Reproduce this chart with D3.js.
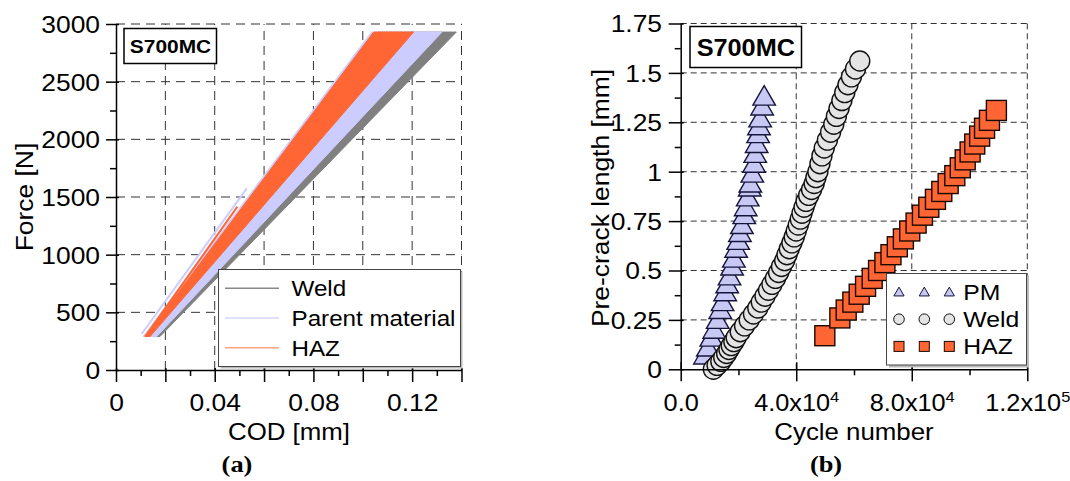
<!DOCTYPE html>
<html>
<head>
<meta charset="utf-8">
<script src="https://cdn.jsdelivr.net/npm/d3@7"></script>
<style>
  body { margin: 0; background: #fff; }
  svg { display: block; font-family: "Liberation Sans", Arial, sans-serif; }
</style>
</head>
<body>
<div id="wrapper"></div>
<script>
// ---- (a) force vs COD: first and last loading line of each material
const forceMinMax = [290, 2930];
const weldCodAtMin = [0.0130, 0.0178];
const weldCodAtMax = [0.1060, 0.1379];
const pmCodAtMin = [0.0110, 0.0165];
const pmCodAtMax = [0.1035, 0.1321];
const hazCodAtMin = [0.0118, 0.0138];
const hazCodAtMax = [0.1044, 0.1206];
// early partial cycles [cod, force]
const pmEarly = [[0.0104, 312], [0.0530, 1575]];
const hazEarly = [[0.0118, 290], [0.0492, 1416]];

const codTicks = [0, 0.02, 0.04, 0.06, 0.08, 0.10, 0.12, 0.14];
const codMinor = [0.01, 0.03, 0.05, 0.07, 0.09, 0.11, 0.13];
const forceTicks = [0, 500, 1000, 1500, 2000, 2500, 3000];
const forceMinor = [250, 750, 1250, 1750, 2250, 2750];

// ---- (b) pre-crack length vs cycles
const pmCycles = [8400, 9400, 10600, 11600, 12800, 13700, 14500, 15400, 16100, 16900,
  17800, 18400, 19200, 19900, 20500, 21200, 22000, 22500, 23200, 23900,
  24100, 24800, 25400, 25800, 26300, 26800, 27100, 27500, 28200, 28900];
const pmLength = [0.06, 0.10, 0.15, 0.19, 0.24, 0.29, 0.33, 0.38, 0.42, 0.46,
  0.51, 0.55, 0.60, 0.64, 0.68, 0.72, 0.77, 0.81, 0.86, 0.91,
  0.93, 0.98, 1.03, 1.08, 1.13, 1.18, 1.22, 1.26, 1.32, 1.37];

const weldCycles = [11300, 12600, 13900, 14900, 15900, 16700, 17500, 18400, 19200, 20600,
  22100, 23700, 25200, 26700, 27900, 29200, 30400, 31600, 32800, 33900,
  34900, 36000, 36800, 37600, 38500, 39300, 40000, 40700, 41400, 42000,
  42700, 43400, 44300, 45300, 46200, 46800, 47500, 48200, 48900, 49700,
  50800, 51900, 53000, 53900, 54800, 55800, 56800, 57900, 59100, 60500, 62000];
const weldLength = [0.00, 0.02, 0.04, 0.06, 0.08, 0.10, 0.12, 0.14, 0.16, 0.19,
  0.22, 0.25, 0.28, 0.31, 0.34, 0.37, 0.40, 0.43, 0.46, 0.49,
  0.52, 0.55, 0.58, 0.61, 0.64, 0.67, 0.70, 0.73, 0.76, 0.79,
  0.82, 0.85, 0.88, 0.91, 0.94, 0.97, 1.00, 1.04, 1.08, 1.12,
  1.16, 1.20, 1.24, 1.28, 1.32, 1.36, 1.40, 1.44, 1.48, 1.52, 1.56];

const hazCycles = [49900, 55100, 57300, 59600, 61800, 64000, 66300, 68500, 70700, 72800,
  75000, 77100, 79300, 81500, 83700, 85900, 88200, 90400, 92600, 94900,
  96800, 98500, 100200, 101800, 103500, 105200, 106900, 109300];
const hazLength = [0.17, 0.26, 0.30, 0.34, 0.38, 0.42, 0.46, 0.50, 0.54, 0.58,
  0.62, 0.66, 0.70, 0.74, 0.78, 0.82, 0.86, 0.90, 0.94, 0.98,
  1.02, 1.06, 1.10, 1.14, 1.18, 1.22, 1.26, 1.31];

const cycleTicks = [0, 40000, 80000, 120000];
const cycleMinor = [20000, 60000, 100000];
const lengthTicks = [0, 0.25, 0.5, 0.75, 1, 1.25, 1.5, 1.75];
const lengthMinor = [0.125, 0.375, 0.625, 0.875, 1.125, 1.375, 1.625];

const stretch = 1.1; // the original font runs a bit wider than Liberation Sans
const fontSans = "'Liberation Sans', Arial, sans-serif";
const fontSerif = "'Liberation Serif', 'Times New Roman', serif";

const svg = d3.select("#wrapper").append("svg")
  .attr("width", 1070).attr("height", 481);

function addText(g, x, y, str, size, anchor, weight, family, rot) {
  return g.append("text")
    .attr("transform", `translate(${x},${y}) rotate(${rot || 0}) scale(${stretch},1)`)
    .attr("font-size", size)
    .attr("text-anchor", anchor || "middle")
    .attr("font-weight", weight || "normal")
    .attr("font-family", family || fontSans)
    .text(str);
}

function styleAxis(ax) {
  ax.attr("font-family", fontSans);
  ax.select(".domain").attr("stroke-width", 1.5).attr("stroke", "#000");
  ax.selectAll(".tick line").attr("stroke-width", 1.5).attr("stroke", "#000");
  ax.selectAll(".tick text").attr("fill", "#000");
}

// ================= panel (a) =================
const xA = d3.scaleLinear([0, 0.14], [116, 461.5]);
const yA = d3.scaleLinear([0, 3000], [370, 24]);
const gA = svg.append("g");

// grid
gA.append("g").selectAll("line")
  .data(codTicks.slice(1))
  .join("line")
  .attr("x1", d => xA(d)).attr("x2", d => xA(d))
  .attr("y1", yA(0)).attr("y2", yA(3000))
  .attr("stroke", "#333").attr("stroke-dasharray", "9,6");
gA.append("g").selectAll("line")
  .data(forceTicks.slice(1))
  .join("line")
  .attr("x1", xA(0)).attr("x2", xA(0.14))
  .attr("y1", d => yA(d)).attr("y2", d => yA(d))
  .attr("stroke", "#333").attr("stroke-dasharray", "9,6");

// bands
const bands = [
  {low: weldCodAtMin, high: weldCodAtMax, color: "#808080"},
  {low: pmCodAtMin, high: pmCodAtMax, color: "#ccccff"},
  {low: hazCodAtMin, high: hazCodAtMax, color: "#ff6633"},
];
const poly = d3.line();
bands.forEach(b => {
  const pts = [
    [xA(b.low[0]), yA(forceMinMax[0])],
    [xA(b.high[0]), yA(forceMinMax[1])],
    [xA(b.high[1]), yA(forceMinMax[1])],
    [xA(b.low[1]), yA(forceMinMax[0])],
  ];
  gA.append("path").attr("d", poly(pts) + "Z")
    .attr("fill", b.color).attr("stroke", b.color).attr("stroke-width", 1);
});
gA.append("path").attr("d", poly(pmEarly.map(d => [xA(d[0]), yA(d[1])])))
  .attr("stroke", "#ccccff").attr("stroke-width", 2).attr("fill", "none");
gA.append("path").attr("d", poly(hazEarly.map(d => [xA(d[0]), yA(d[1])])))
  .attr("stroke", "#ff6633").attr("stroke-width", 2).attr("fill", "none");

// axes
const axAy = gA.append("g").attr("transform", `translate(${xA(0)},0)`)
  .call(d3.axisLeft(yA).tickValues(forceTicks).tickSizeInner(10).tickSizeOuter(0).tickFormat(d3.format("d")));
axAy.selectAll(".tick line").attr("x1", 3);
axAy.selectAll(".tick text").attr("font-size", 24).attr("x", -14.5).attr("dy", "0.35em")
  .attr("transform", `scale(${stretch},1)`);
styleAxis(axAy);
const axAyMinor = gA.append("g").attr("transform", `translate(${xA(0)},0)`)
  .call(d3.axisLeft(yA).tickValues(forceMinor).tickSize(6).tickFormat(""));
axAyMinor.select(".domain").remove();
styleAxis(axAyMinor);

const axAx = gA.append("g").attr("transform", `translate(0,${yA(0)})`)
  .call(d3.axisBottom(xA).tickValues(codTicks).tickSizeInner(12).tickSizeOuter(0)
    .tickFormat(d => Math.round(d * 100) % 4 === 0 ? String(+d.toFixed(2)) : ""));
axAx.selectAll(".tick line").attr("y1", -2);
axAx.selectAll(".tick text").attr("font-size", 24).attr("y", 40.7).attr("dy", 0)
  .attr("transform", `scale(${stretch},1)`);
styleAxis(axAx);
const axAxMinor = gA.append("g").attr("transform", `translate(0,${yA(0)})`)
  .call(d3.axisBottom(xA).tickValues(codMinor).tickSize(6).tickFormat(""));
axAxMinor.select(".domain").remove();
styleAxis(axAxMinor);

// titles
addText(gA, 289, 440, "COD [mm]", 23.5);
addText(gA, 32.5, 197, "Force [N]", 24, "middle", "normal", fontSans, -90);
addText(gA, 237, 471.5, "(a)", 24, "middle", "bold", fontSerif);

// label box
gA.append("rect").attr("x", 124).attr("y", 28.5).attr("width", 92.5).attr("height", 35)
  .attr("fill", "#fff").attr("stroke", "#000").attr("stroke-width", 1.5);
addText(gA, 170.5, 53, "S700MC", 19, "middle", "bold");

// legend
const legA = [
  {name: "Weld", color: "#888888"},
  {name: "Parent material", color: "#d4d4ff"},
  {name: "HAZ", color: "#ffa27f"},
];
gA.append("rect").attr("x", 220.5).attr("y", 271.5).attr("width", 242).attr("height", 97)
  .attr("fill", "#bbb");
gA.append("rect").attr("x", 218.5).attr("y", 269.5).attr("width", 242).attr("height", 97)
  .attr("fill", "#fff").attr("stroke", "#444").attr("stroke-width", 1);
legA.forEach((d, i) => {
  const y = 288.3 + i * 29.7;
  gA.append("line").attr("x1", 225).attr("x2", 279).attr("y1", y).attr("y2", y)
    .attr("stroke", d.color).attr("stroke-width", 1.5);
  addText(gA, 291.5, y + 8, d.name, 22, "start");
});

// ================= panel (b) =================
const xB = d3.scaleLinear([0, 120000], [680.7, 1027.3]);
const yB = d3.scaleLinear([0, 1.75], [369.3, 23.5]);
const gB = svg.append("g");

gB.append("g").selectAll("line")
  .data(cycleTicks.slice(1))
  .join("line")
  .attr("x1", d => xB(d)).attr("x2", d => xB(d))
  .attr("y1", yB(0)).attr("y2", yB(1.75))
  .attr("stroke", "#333").attr("stroke-dasharray", "6,4");
gB.append("g").selectAll("line")
  .data(lengthTicks.slice(1))
  .join("line")
  .attr("x1", xB(0)).attr("x2", xB(120000))
  .attr("y1", d => yB(d)).attr("y2", d => yB(d))
  .attr("stroke", "#333").attr("stroke-dasharray", "6,4");

const pmData = pmCycles.map((c, i) => ({c, a: pmLength[i]}));
const weldData = weldCycles.map((c, i) => ({c, a: weldLength[i]}));
const hazData = hazCycles.map((c, i) => ({c, a: hazLength[i]}));

const tri = d3.symbol(d3.symbolTriangle, 220);
gB.append("g").selectAll("path")
  .data(pmData)
  .join("path")
  .attr("d", tri)
  .attr("transform", d => `translate(${xB(d.c)},${yB(d.a)})`)
  .attr("fill", "#c8c8f4").attr("stroke", "#14143c").attr("stroke-width", 1.4);

gB.append("g").selectAll("circle")
  .data(weldData)
  .join("circle")
  .attr("cx", d => xB(d.c)).attr("cy", d => yB(d.a)).attr("r", 10)
  .attr("fill", "#e4e4e4").attr("stroke", "#111").attr("stroke-width", 1.4);

gB.append("g").selectAll("rect")
  .data(hazData)
  .join("rect")
  .attr("x", d => xB(d.c) - 10).attr("y", d => yB(d.a) - 10)
  .attr("width", 20).attr("height", 20)
  .attr("fill", "#ff6633").attr("stroke", "#1a0800").attr("stroke-width", 1.4);

// axes
const axBy = gB.append("g").attr("transform", `translate(${xB(0)},0)`)
  .call(d3.axisLeft(yB).tickValues(lengthTicks).tickSizeInner(12).tickSizeOuter(0)
    .tickFormat(d => String(d)));
axBy.selectAll(".tick line").attr("x1", 3);
axBy.selectAll(".tick text").attr("font-size", 24).attr("x", -17).attr("dy", "0.35em")
  .attr("transform", `scale(${stretch},1)`);
styleAxis(axBy);
const axByMinor = gB.append("g").attr("transform", `translate(${xB(0)},0)`)
  .call(d3.axisLeft(yB).tickValues(lengthMinor).tickSize(6).tickFormat(""));
axByMinor.select(".domain").remove();
styleAxis(axByMinor);

const axBx = gB.append("g").attr("transform", `translate(0,${yB(0)})`)
  .call(d3.axisBottom(xB).tickValues(cycleTicks).tickSizeInner(12).tickSizeOuter(0).tickFormat(""));
axBx.selectAll(".tick line").attr("y1", -7);
axBx.selectAll(".tick text").each(function(d) {
  const t = d3.select(this)
    .attr("font-size", 23).attr("y", 41.3).attr("dy", 0)
    .attr("transform", `scale(${stretch},1)`);
  if (d === 0) { t.text("0.0"); return; }
  const e = Math.floor(Math.log10(d));
  const m = d / Math.pow(10, e);
  t.append("tspan").text(m.toFixed(1) + "x10");
  t.append("tspan").attr("font-size", 15).attr("dy", -9).text(e);
});
styleAxis(axBx);
const axBxMinor = gB.append("g").attr("transform", `translate(0,${yB(0)})`)
  .call(d3.axisBottom(xB).tickValues(cycleMinor).tickSize(6).tickFormat(""));
axBxMinor.select(".domain").remove();
styleAxis(axBxMinor);

addText(gB, 854, 440, "Cycle number", 23.5);
addText(gB, 608.5, 198, "Pre-crack length [mm]", 24, "middle", "normal", fontSans, -90);
addText(gB, 826, 471.5, "(b)", 24, "middle", "bold", fontSerif);

gB.append("rect").attr("x", 690).attr("y", 26.5).attr("width", 111.5).attr("height", 41)
  .attr("fill", "#fff").attr("stroke", "#000").attr("stroke-width", 1.5);
addText(gB, 745.8, 55.5, "S700MC", 23, "middle", "bold");

// legend
gB.append("rect").attr("x", 889).attr("y", 275.5).attr("width", 140).attr("height", 92)
  .attr("fill", "#bbb");
gB.append("rect").attr("x", 886.5).attr("y", 273.5).attr("width", 140).attr("height", 91.5)
  .attr("fill", "#fff").attr("stroke", "#444").attr("stroke-width", 1);
const legX = [899, 924.3, 949.3];
const legRows = [
  {name: "PM", kind: "tri"},
  {name: "Weld", kind: "circle"},
  {name: "HAZ", kind: "square"},
];
const triSmall = d3.symbol(d3.symbolTriangle, 45);
legRows.forEach((r, i) => {
  const y = 292 + i * 27.2;
  legX.forEach(x => {
    if (r.kind === "tri") {
      gB.append("path").attr("d", triSmall).attr("transform", `translate(${x},${y + 1})`)
        .attr("fill", "#c8c8f4").attr("stroke", "#14143c").attr("stroke-width", 1);
    } else if (r.kind === "circle") {
      gB.append("circle").attr("cx", x).attr("cy", y).attr("r", 5.3)
        .attr("fill", "#e4e4e4").attr("stroke", "#111").attr("stroke-width", 1);
    } else {
      gB.append("rect").attr("x", x - 5).attr("y", y - 5).attr("width", 10).attr("height", 10)
        .attr("fill", "#ff6633").attr("stroke", "#1a0800").attr("stroke-width", 1);
    }
  });
  addText(gB, 963.3, y + 7.5, r.name, 22.5, "start");
});
</script>
</body>
</html>
